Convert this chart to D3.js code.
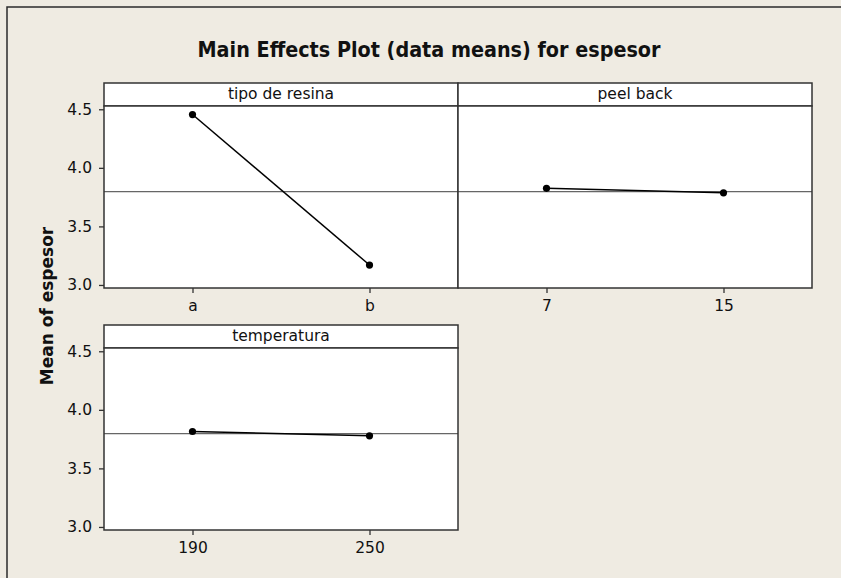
<!DOCTYPE html>
<html>
<head>
<meta charset="utf-8">
<script src="https://cdn.jsdelivr.net/npm/d3@7"></script>
<style>
  body { margin: 0; background: #efebe2; }
  text { font-family: "DejaVu Sans", Verdana, sans-serif; fill: #111; }
</style>
</head>
<body>
<div id="chart"></div>
<script>
// Data
var factors = ["tipo de resina", "peel back", "temperatura"];
var levels = [["a", "b"], ["7", "15"], ["190", "250"]];
var means = [[4.455, 3.170], [3.825, 3.787], [3.815, 3.778]];
var grandMean = 3.797;
var yTicks = [3.0, 3.5, 4.0, 4.5];

var svgWidth = 841;
var svgHeight = 578;

// panel grid
var panelW = 354;
var stripH = 23;
var plotH = 182;
var rowStep = 242;
var left0 = 104;
var top0 = 83;

var svg = d3.select("#chart")
  .append("svg")
  .attr("width", svgWidth)
  .attr("height", svgHeight);

svg.append("rect")
  .attr("width", svgWidth)
  .attr("height", svgHeight)
  .attr("fill", "#efebe2");

// outer frame (top + left edge)
svg.append("path")
  .attr("d", "M7," + svgHeight + "V7H" + svgWidth)
  .attr("fill", "none")
  .attr("stroke", "#2b2b2b")
  .attr("stroke-width", 1.5);

// title
svg.append("text")
  .attr("x", 429)
  .attr("y", 57)
  .attr("text-anchor", "middle")
  .attr("font-weight", "bold")
  .attr("font-size", "22px")
  .attr("textLength", 463)
  .attr("lengthAdjust", "spacingAndGlyphs")
  .text("Main Effects Plot (data means) for espesor");

// y axis title
svg.append("text")
  .attr("transform", "translate(53, 306) rotate(-90)")
  .attr("text-anchor", "middle")
  .attr("font-weight", "bold")
  .attr("font-size", "17px")
  .text("Mean of espesor");

var yScale = d3.scaleLinear()
  .domain([2.974, 4.528])
  .range([plotH, 0]);

factors.forEach(function (name, i) {
  var col = i % 2;
  var row = Math.floor(i / 2);
  var px = left0 + col * panelW;
  var py = top0 + row * rowStep;

  var g = svg.append("g")
    .attr("transform", "translate(" + px + "," + py + ")");

  // strip
  g.append("rect")
    .attr("width", panelW)
    .attr("height", stripH)
    .attr("fill", "#fff")
    .attr("stroke", "#333")
    .attr("stroke-width", 1.5);

  g.append("text")
    .attr("x", panelW / 2)
    .attr("y", stripH - 7)
    .attr("text-anchor", "middle")
    .attr("font-size", "15.5px")
    .text(name);

  var plot = g.append("g")
    .attr("transform", "translate(0," + stripH + ")");

  plot.append("rect")
    .attr("width", panelW)
    .attr("height", plotH)
    .attr("fill", "#fff");

  var xScale = d3.scalePoint()
    .domain(levels[i])
    .range([0, panelW])
    .padding(0.5);

  // grand mean reference line
  plot.append("line")
    .attr("x1", 0)
    .attr("x2", panelW)
    .attr("y1", yScale(grandMean))
    .attr("y2", yScale(grandMean))
    .attr("stroke", "#666")
    .attr("stroke-width", 1.3);

  var pts = levels[i].map(function (lv, j) {
    return { level: lv, value: means[i][j] };
  });

  plot.append("path")
    .datum(pts)
    .attr("fill", "none")
    .attr("stroke", "#000")
    .attr("stroke-width", 1.5)
    .attr("d", d3.line()
      .x(d => xScale(d.level))
      .y(d => yScale(d.value)));

  plot.selectAll("circle")
    .data(pts)
    .enter()
    .append("circle")
    .attr("cx", d => xScale(d.level))
    .attr("cy", d => yScale(d.value))
    .attr("r", 3.6)
    .attr("fill", "#000");

  // panel border
  plot.append("rect")
    .attr("width", panelW)
    .attr("height", plotH)
    .attr("fill", "none")
    .attr("stroke", "#333")
    .attr("stroke-width", 1.5);

  var xAxis = plot.append("g")
    .attr("transform", "translate(0," + plotH + ")")
    .call(d3.axisBottom(xScale).tickSize(5).tickPadding(7));
  xAxis.select(".domain").remove();
  xAxis.selectAll("line").attr("stroke", "#333").attr("stroke-width", 1.3);
  xAxis.selectAll("text")
    .attr("font-size", "15.5px")
    .attr("font-family", "DejaVu Sans, sans-serif")
    .attr("fill", "#111");

  if (col === 0) {
    var yAxis = plot.append("g")
      .call(d3.axisLeft(yScale)
        .tickValues(yTicks)
        .tickFormat(d3.format(".1f"))
        .tickSize(5)
        .tickPadding(7));
    yAxis.select(".domain").remove();
    yAxis.selectAll("line").attr("stroke", "#333").attr("stroke-width", 1.3);
    yAxis.selectAll("text")
      .attr("font-size", "15.5px")
      .attr("font-family", "DejaVu Sans, sans-serif")
      .attr("fill", "#111");
  }
});
</script>
</body>
</html>
